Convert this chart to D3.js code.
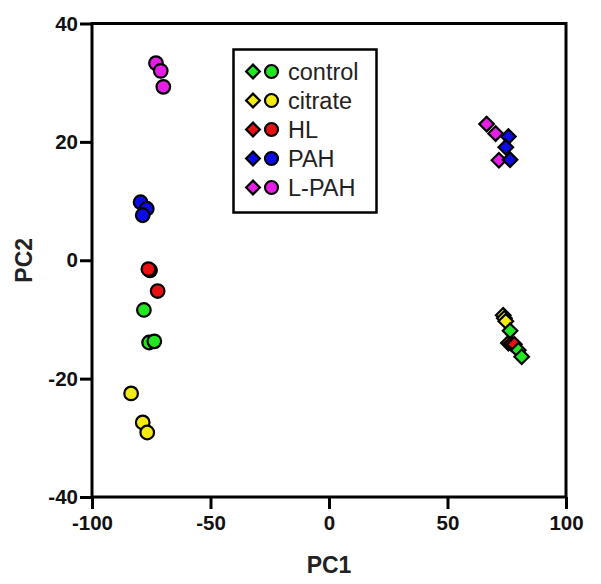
<!DOCTYPE html>
<html>
<head>
<meta charset="utf-8">
<script src="https://cdn.jsdelivr.net/npm/d3@7"></script>
<style>
    body { margin: 0; background: #fff; }
    svg { font-family: "Liberation Sans", Arial, sans-serif; }
</style>
</head>
<body>
<svg id="chart" width="601" height="584"></svg>
<script>
// groups, legend order
var groups = ["control", "citrate", "HL", "PAH", "L-PAH"];
var colors = ["#22e622", "#f2ec12", "#e81010", "#0c0ce8", "#e81ee8"];

// circles: [PC1, PC2]
var controlCircles = [[-78.1, -8.4], [-75.9, -13.9], [-73.7, -13.7]];
var citrateCircles = [[-83.5, -22.5], [-78.6, -27.4], [-76.7, -29.1]];
var hlCircles = [[-75.5, -1.7], [-76.2, -1.5], [-72.3, -5.2]];
var pahCircles = [[-79.5, 9.8], [-76.9, 8.7], [-78.6, 7.6]];
var lpahCircles = [[-73.0, 33.3], [-71.0, 32.0], [-69.9, 29.3]];

// diamonds: [PC1, PC2]
var controlDiamonds = [[76.4, -11.9], [79.9, -15.2], [81.3, -16.3]];
var citrateDiamonds = [[73.5, -9.3], [74.0, -9.8], [74.6, -10.3]];
var hlDiamonds = [[75.7, -14.0], [77.0, -14.1], [78.2, -14.2]];
var pahDiamonds = [[75.7, 20.9], [74.6, 19.1], [76.4, 17.0]];
var lpahDiamonds = [[66.5, 23.0], [70.3, 21.4], [71.7, 16.9]];

var xTicks = [-100, -50, 0, 50, 100];
var yTicks = [-40, -20, 0, 20, 40];

var circleSets = [controlCircles, citrateCircles, hlCircles, pahCircles, lpahCircles];
var diamondSets = [controlDiamonds, citrateDiamonds, hlDiamonds, pahDiamonds, lpahDiamonds];
// draw order for overlapping marks
var drawOrder = [4, 3, 1, 2, 0];

var svg = d3.select("#chart");
var plotLeft = 92, plotRight = 566, plotTop = 23.5, plotBottom = 497;

var x = d3.scaleLinear().domain([-100, 100]).range([plotLeft, plotRight]);
var y = d3.scaleLinear().domain([-40, 40]).range([plotBottom, plotTop]);

// frame
svg.append("rect")
    .attr("x", plotLeft).attr("y", plotTop)
    .attr("width", plotRight - plotLeft).attr("height", plotBottom - plotTop)
    .attr("fill", "none").attr("stroke", "#000").attr("stroke-width", 3);

var fmt = function (d) { return String(d); };

var xAxis = svg.append("g")
    .attr("transform", "translate(0," + plotBottom + ")")
    .call(d3.axisBottom(x).tickValues(xTicks).tickFormat(fmt).tickSize(12).tickPadding(6));
var yAxis = svg.append("g")
    .attr("transform", "translate(" + plotLeft + ",0)")
    .call(d3.axisLeft(y).tickValues(yTicks).tickFormat(fmt).tickSize(12).tickPadding(2));

[xAxis, yAxis].forEach(function (a) {
    a.select(".domain").remove();
    a.selectAll(".tick line").attr("stroke", "#000").attr("stroke-width", 3);
    a.selectAll(".tick text")
        .attr("fill", "#111")
        .style("font-size", "20.5px")
        .style("font-weight", "bold");
});

// axis titles
svg.append("text")
    .attr("x", (plotLeft + plotRight) / 2).attr("y", 573)
    .attr("text-anchor", "middle")
    .style("font-size", "23px").style("font-weight", "bold").attr("fill", "#222")
    .text("PC1");
svg.append("text")
    .attr("transform", "translate(32," + y(0) + ") rotate(-90)")
    .attr("text-anchor", "middle")
    .style("font-size", "23px").style("font-weight", "bold").attr("fill", "#222")
    .text("PC2");

var diamond = d3.symbol().type(d3.symbolDiamond2).size(135);

// circles
drawOrder.forEach(function (i) {
    svg.append("g").selectAll("circle")
        .data(circleSets[i])
        .enter().append("circle")
        .attr("cx", function (d) { return x(d[0]); })
        .attr("cy", function (d) { return y(d[1]); })
        .attr("r", 6.8)
        .attr("fill", colors[i])
        .attr("stroke", "#000")
        .attr("stroke-width", 2.2);
});

// diamonds
drawOrder.forEach(function (i) {
    svg.append("g").selectAll("path")
        .data(diamondSets[i])
        .enter().append("path")
        .attr("d", diamond)
        .attr("transform", function (d) {
            return "translate(" + x(d[0]) + "," + y(d[1]) + ")";
        })
        .attr("fill", colors[i])
        .attr("stroke", "#000")
        .attr("stroke-width", 2.2);
});

// legend
var legend = svg.append("g");
legend.append("rect")
    .attr("x", 233.5).attr("y", 49.5)
    .attr("width", 143).attr("height", 163)
    .attr("fill", "#fff").attr("stroke", "#000").attr("stroke-width", 2.5);

var rows = legend.selectAll("g.row")
    .data(groups)
    .enter().append("g")
    .attr("class", "row")
    .attr("transform", function (d, i) { return "translate(0," + (71.5 + i * 29) + ")"; });

rows.append("path")
    .attr("d", d3.symbol().type(d3.symbolDiamond2).size(120))
    .attr("transform", "translate(253,0)")
    .attr("fill", function (d, i) { return colors[i]; })
    .attr("stroke", "#000").attr("stroke-width", 2.2);
rows.append("circle")
    .attr("cx", 271.5).attr("cy", 0).attr("r", 6.5)
    .attr("fill", function (d, i) { return colors[i]; })
    .attr("stroke", "#000").attr("stroke-width", 2.2);
rows.append("text")
    .attr("x", 288).attr("y", 8)
    .style("font-size", "23.5px").attr("fill", "#222")
    .text(function (d) { return d; });
</script>
</body>
</html>
